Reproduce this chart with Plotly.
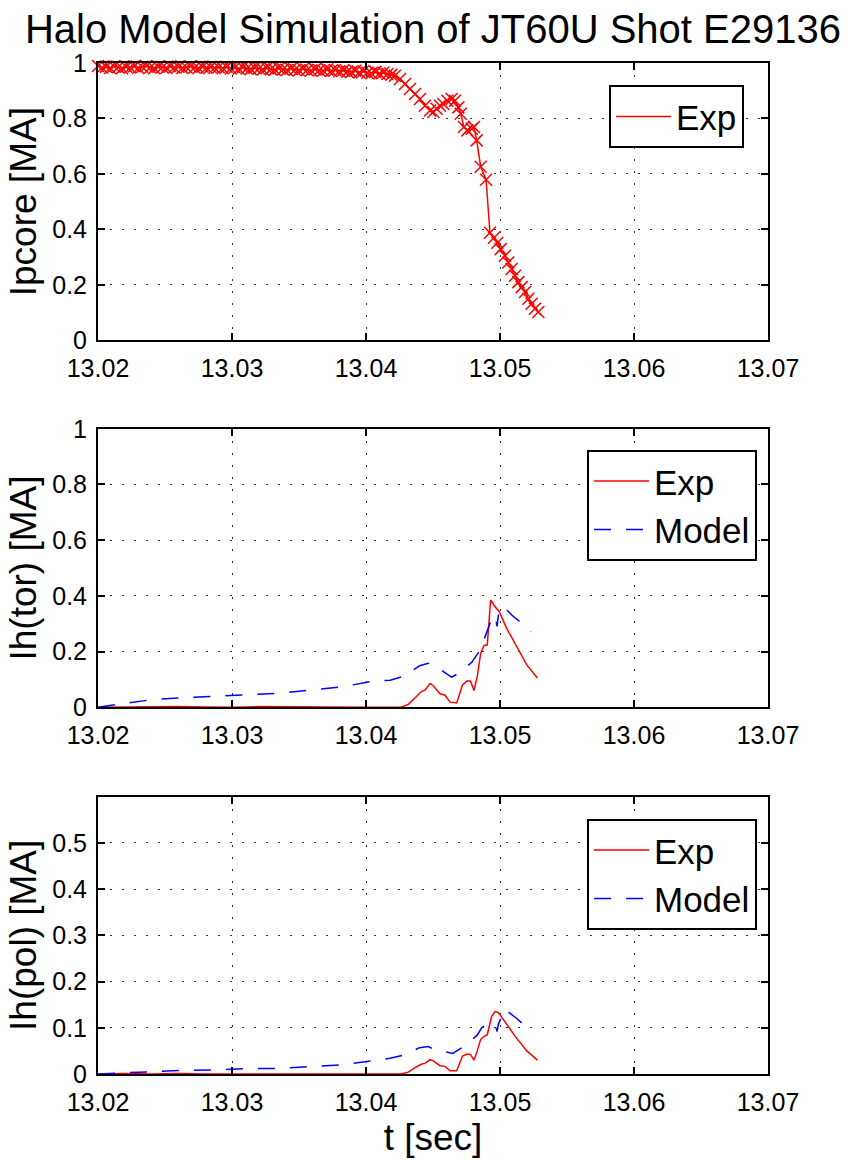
import plotly.graph_objects as go

# ---------------- data ----------------
# Top panel: Ipcore (experiment)
ip_t = [13.0200, 13.0203, 13.0206, 13.0209, 13.0212, 13.0215, 13.0218, 13.0221, 13.0224, 13.0227,
        13.0230, 13.0233, 13.0236, 13.0239, 13.0242, 13.0245, 13.0248, 13.0251, 13.0254, 13.0257,
        13.0260, 13.0263, 13.0266, 13.0269, 13.0272, 13.0275, 13.0278, 13.0281, 13.0284, 13.0287,
        13.0290, 13.0293, 13.0296, 13.0299, 13.0302, 13.0305, 13.0308, 13.0311, 13.0314, 13.0317,
        13.0320, 13.0323, 13.0326, 13.0329, 13.0332, 13.0335, 13.0338, 13.0341, 13.0344, 13.0347,
        13.0350, 13.0353, 13.0356, 13.0359, 13.0362, 13.0365, 13.0368, 13.0371, 13.0374, 13.0377,
        13.0380, 13.0383, 13.0386, 13.0389, 13.0392, 13.0395, 13.0398, 13.0401, 13.0404, 13.0407,
        13.0410, 13.0413, 13.0416, 13.0419,
        13.04216, 13.04254, 13.04291, 13.04328, 13.04366, 13.04403, 13.04440, 13.04478, 13.04502,
        13.04527, 13.04552, 13.04577, 13.04607, 13.04639, 13.04664, 13.04689, 13.04707, 13.04731,
        13.04756, 13.04789, 13.04806, 13.04826, 13.04856, 13.04896, 13.04925, 13.04955, 13.04980,
        13.05005, 13.05037, 13.05062, 13.05087, 13.05112, 13.05137, 13.05162, 13.05187, 13.05212,
        13.05236, 13.05261, 13.05286]
ip_exp = [0.989, 0.983, 0.987, 0.982, 0.988, 0.985, 0.981, 0.987, 0.984, 0.988,
          0.982, 0.986, 0.989, 0.984, 0.981, 0.987, 0.985, 0.982, 0.988, 0.984,
          0.987, 0.982, 0.985, 0.988, 0.984, 0.981, 0.987, 0.983, 0.986, 0.982,
          0.985, 0.981, 0.986, 0.980, 0.984, 0.979, 0.985, 0.980, 0.978, 0.983,
          0.980, 0.977, 0.982, 0.978, 0.976, 0.981, 0.977, 0.975, 0.980, 0.976,
          0.974, 0.979, 0.975, 0.973, 0.978, 0.974, 0.972, 0.977, 0.971, 0.975,
          0.970, 0.974, 0.969, 0.967, 0.972, 0.966, 0.970, 0.965, 0.963, 0.968,
          0.962, 0.966, 0.960, 0.958,
          0.954, 0.942, 0.924, 0.906, 0.888, 0.870, 0.846, 0.829, 0.823,
          0.835, 0.846, 0.852, 0.864, 0.870, 0.864, 0.840, 0.817, 0.769,
          0.757, 0.763, 0.769, 0.721, 0.626, 0.579, 0.388, 0.370, 0.352,
          0.329, 0.305, 0.281, 0.257, 0.233, 0.210, 0.192, 0.174, 0.150,
          0.132, 0.114, 0.102]

# Middle panel: toroidal halo current
tor_exp_t = [13.020, 13.022, 13.024, 13.026, 13.028, 13.030, 13.032, 13.034, 13.036, 13.038,
             13.040, 13.042, 13.04259, 13.04316, 13.04366, 13.04416, 13.04440, 13.04478, 13.04500,
             13.04552, 13.04590, 13.04627, 13.04677, 13.04720, 13.04756, 13.04780, 13.04806,
             13.04830, 13.04856, 13.04880, 13.04905, 13.04930, 13.04963, 13.04995, 13.05050,
             13.05112, 13.05200, 13.05279]
tor_exp = [0.000, 0.001, 0.000, 0.002, 0.001, 0.000, 0.002, 0.001, 0.000, 0.001,
           0.000, 0.000, 0.000, 0.010, 0.033, 0.057, 0.061, 0.085, 0.078,
           0.048, 0.043, 0.018, 0.015, 0.080, 0.095, 0.093, 0.060,
           0.110, 0.194, 0.221, 0.224, 0.385, 0.361, 0.343, 0.283,
           0.230, 0.152, 0.105]
tor_mod_t = [13.0200, 13.0218, 13.0240, 13.0264, 13.0287, 13.0311, 13.0335, 13.0358, 13.0382,
             13.0405, 13.0418, 13.0429, 13.0440, 13.04465, 13.0450, 13.04602, 13.04639, 13.04696,
             13.04789, 13.04851, 13.04896, 13.04933, 13.04963, 13.04978, 13.04988, 13.05000,
             13.05025, 13.05087, 13.05187, 13.05229]
tor_mod = [0.000, 0.012, 0.027, 0.034, 0.039, 0.045, 0.050, 0.061, 0.073,
           0.093, 0.097, 0.112, 0.149, 0.158, 0.155, 0.120, 0.108, 0.123,
           0.161, 0.204, 0.260, 0.311, 0.330, 0.290, 0.330, 0.349,
           0.363, 0.331, 0.292, 0.271]

# Bottom panel: poloidal halo current
pol_exp_t = [13.020, 13.022, 13.024, 13.026, 13.028, 13.030, 13.032, 13.034, 13.036, 13.038,
             13.040, 13.042, 13.04259, 13.04316, 13.04366, 13.04416, 13.04440, 13.04478, 13.04500,
             13.04552, 13.04590, 13.04627, 13.04677, 13.04720, 13.04756, 13.04780, 13.04806,
             13.04830, 13.04856, 13.04880, 13.04905, 13.04938, 13.04963, 13.04988, 13.05050,
             13.05112, 13.05200, 13.05279]
pol_exp = [0.000, 0.001, 0.000, 0.001, 0.000, 0.000, 0.001, 0.000, 0.000, 0.001,
           0.000, 0.000, 0.000, 0.004, 0.014, 0.0215, 0.023, 0.031, 0.029,
           0.018, 0.0165, 0.007, 0.007, 0.039, 0.043, 0.042, 0.030,
           0.050, 0.075, 0.081, 0.085, 0.125, 0.135, 0.133, 0.1075,
           0.082, 0.050, 0.030]
pol_mod_t = [13.0200, 13.0218, 13.0240, 13.0264, 13.0287, 13.0311, 13.0335, 13.0358, 13.0382,
             13.0405, 13.0418, 13.0429, 13.0440, 13.04465, 13.0450, 13.04647, 13.04739, 13.04831,
             13.04863, 13.04896, 13.04963, 13.04978, 13.04988, 13.05037, 13.05125, 13.05224]
pol_mod = [0.000, 0.002, 0.006, 0.008, 0.009, 0.0115, 0.012, 0.0165, 0.020,
           0.0287, 0.034, 0.0415, 0.057, 0.0595, 0.054, 0.0445, 0.061, 0.0845,
           0.100, 0.106, 0.108, 0.092, 0.108, 0.140, 0.120, 0.0945]

x_ticks = [13.02, 13.03, 13.04, 13.05, 13.06, 13.07]
x_tick_labels = ["13.02", "13.03", "13.04", "13.05", "13.06", "13.07"]
y_ticks_full = [0, 0.2, 0.4, 0.6, 0.8, 1.0]
y_tick_labels_full = ["0", "0.2", "0.4", "0.6", "0.8", "1"]
y_ticks_pol = [0, 0.1, 0.2, 0.3, 0.4, 0.5]
y_tick_labels_pol = ["0", "0.1", "0.2", "0.3", "0.4", "0.5"]

title_text = "Halo Model Simulation of JT60U Shot E29136"
y_titles = ["Ipcore [MA]", "Ih(tor) [MA]", "Ih(pol) [MA]"]
x_title = "t [sec]"

# ---------------- figure ----------------
FONT = "Liberation Sans, Arial, Helvetica, sans-serif"
RED = "#ff0000"
BLUE = "#0000ff"
DASH = "17px,15px"

fig = go.Figure()

# top panel
fig.add_trace(go.Scatter(x=ip_t, y=ip_exp, mode="lines", name="Exp",
                         line=dict(color=RED, width=1.5), xaxis="x", yaxis="y",
                         legend="legend"))
fig.add_trace(go.Scatter(x=ip_t, y=ip_exp, mode="markers", showlegend=False,
                         marker=dict(symbol="x-thin", size=12, color=RED,
                                     line=dict(color=RED, width=1.5)),
                         cliponaxis=False, xaxis="x", yaxis="y"))

# middle panel
fig.add_trace(go.Scatter(x=tor_exp_t, y=tor_exp, mode="lines", name="Exp",
                         line=dict(color=RED, width=1.5), xaxis="x2", yaxis="y2",
                         legend="legend2"))
fig.add_trace(go.Scatter(x=tor_mod_t, y=tor_mod, mode="lines", name="Model",
                         line=dict(color=BLUE, width=1.5, dash=DASH), xaxis="x2", yaxis="y2",
                         legend="legend2"))

# bottom panel
fig.add_trace(go.Scatter(x=pol_exp_t, y=pol_exp, mode="lines", name="Exp",
                         line=dict(color=RED, width=1.5), xaxis="x3", yaxis="y3",
                         legend="legend3"))
fig.add_trace(go.Scatter(x=pol_mod_t, y=pol_mod, mode="lines", name="Model",
                         line=dict(color=BLUE, width=1.5, dash=DASH), xaxis="x3", yaxis="y3",
                         legend="legend3"))

W, H = 847, 1163
ML, MR, MT, MB = 98, 79, 63, 83
PH = H - MT - MB


def ydom(top_px, bot_px):
    return [(H - MB - bot_px) / PH, (H - MB - top_px) / PH]


def px_y(py):
    return (H - MB - py) / PH


def px_x(px):
    return (px - ML) / (W - ML - MR)


common = dict(showline=True, linecolor="black", linewidth=2, mirror="ticks",
              ticks="inside", ticklen=7, tickwidth=1.5, tickcolor="black",
              showgrid=True, gridcolor="#333333", gridwidth=1, griddash="2px,10px",
              zeroline=False, tickfont=dict(family=FONT, size=25, color="black"))

xcommon = dict(common, range=[13.02, 13.07], tickvals=x_ticks, ticktext=x_tick_labels,
               ticklabelstandoff=5)

doms = [ydom(63, 342), ydom(431, 711), ydom(801, 1080)]

layout = dict(
    width=W, height=H, autosize=False,
    margin=dict(l=ML, r=MR, t=MT, b=MB, pad=0),
    paper_bgcolor="white", plot_bgcolor="white",
    font=dict(family=FONT, color="black"),
    title=dict(text=title_text, x=0.5, xref="paper", xanchor="center",
               y=1 - 29 / H, yref="container", yanchor="middle",
               font=dict(family=FONT, size=40, color="black")),
    xaxis=dict(xcommon, anchor="y", domain=[0, 1]),
    xaxis2=dict(xcommon, anchor="y2", domain=[0, 1]),
    xaxis3=dict(xcommon, anchor="y3", domain=[0, 1],
                title=dict(text=x_title, standoff=9,
                           font=dict(family=FONT, size=37, color="black"))),
)

ycfg = [(y_ticks_full, y_tick_labels_full, [0, 1]),
        (y_ticks_full, y_tick_labels_full, [0, 1]),
        (y_ticks_pol, y_tick_labels_pol, [0, 0.6])]
for i, (tv, tt, rng) in enumerate(ycfg):
    key = "yaxis" if i == 0 else f"yaxis{i + 1}"
    anchor = "x" if i == 0 else f"x{i + 1}"
    layout[key] = dict(common, anchor=anchor, domain=doms[i], range=rng,
                       tickvals=tv, ticktext=tt, ticklabelstandoff=4,
                       title=dict(text=y_titles[i], standoff=4,
                                  font=dict(family=FONT, size=37, color="black")))

leg_common = dict(bgcolor="white", bordercolor="black", borderwidth=2,
                  font=dict(family=FONT, size=35, color="black"),
                  xanchor="left", yanchor="middle", itemclick=False, itemwidth=55)
layout["legend"] = dict(leg_common, x=px_x(609), y=px_y(117))
layout["legend2"] = dict(leg_common, x=px_x(587), y=px_y(508))
layout["legend3"] = dict(leg_common, x=px_x(587), y=px_y(879))

fig.update_layout(**layout)
fig.write_html("out.html")
